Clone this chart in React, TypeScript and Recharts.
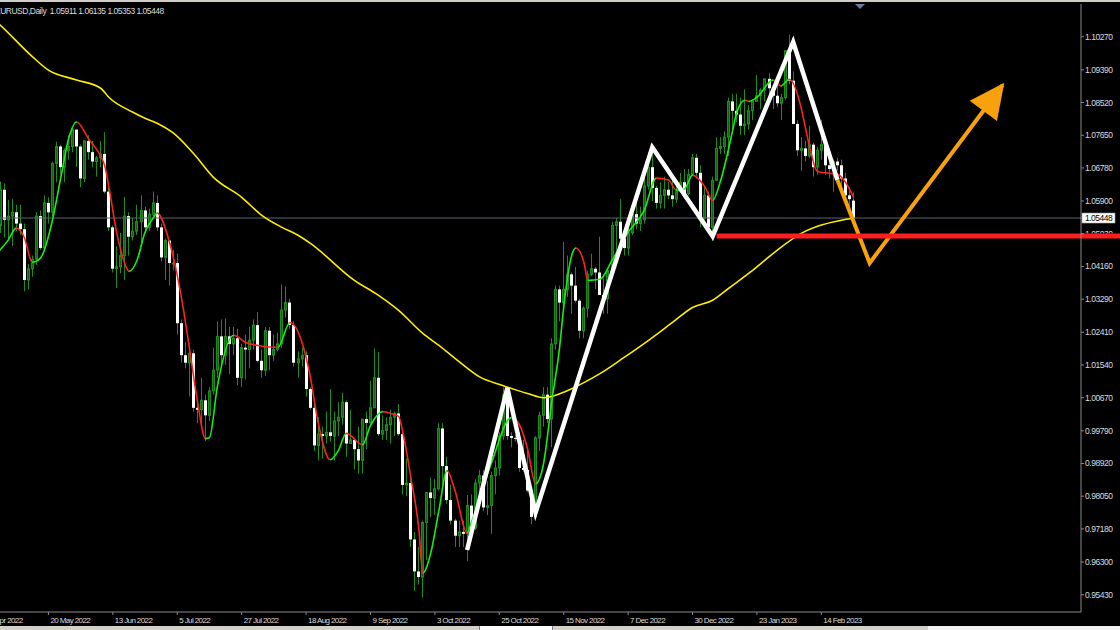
import React from "react";
import { ComposedChart, Bar, Line, XAxis, YAxis, ReferenceLine } from "recharts";

// ---------- data ----------
const SLOT_COUNT = 273; // bar slots across the plot (incl. empty future slots)
const FIRST_CANDLE_SLOT = 4;

const dateLabels = [
  "28 Apr 2022", "20 May 2022", "13 Jun 2022", "5 Jul 2022", "27 Jul 2022",
  "18 Aug 2022", "9 Sep 2022", "3 Oct 2022", "25 Oct 2022", "15 Nov 2022",
  "7 Dec 2022", "30 Dec 2022", "23 Jan 2023", "14 Feb 2023",
];
const dateTickSlots = [0, 16, 32, 48, 64, 80, 96, 112, 128, 144, 160, 176, 192, 208];

const priceTicks = [
  1.1027, 1.0939, 1.0852, 1.0765, 1.0678, 1.059, 1.0503, 1.0416, 1.0329,
  1.0241, 1.0154, 1.0067, 0.9979, 0.9892, 0.9805, 0.9718, 0.963, 0.9543,
];
const LAST_PRICE = 1.05448;
const PRICE_DOMAIN: [number, number] = [0.9497, 1.1114];
const SUPPORT_PRICE = 1.0497;
const SUPPORT_FROM_SLOT = 182;
const TITLE = "EURUSD,Daily  1.05911 1.06135 1.05353 1.05448";

// daily candles [open, high, low, close], from slot 4 onward
const ohlc: [number, number, number, number][] = [
  [1.0525, 1.0642, 1.0505, 1.0620], [1.0620, 1.0637, 1.0493, 1.0540], [1.0540, 1.0593, 1.0484, 1.0550],
  [1.0550, 1.0595, 1.0470, 1.0560], [1.0560, 1.0580, 1.0510, 1.0530], [1.0530, 1.0580, 1.0500, 1.0515],
  [1.0515, 1.0530, 1.0350, 1.0380], [1.0380, 1.0423, 1.0355, 1.0410], [1.0410, 1.0445, 1.0389, 1.0435],
  [1.0435, 1.0560, 1.0420, 1.0550], [1.0550, 1.0565, 1.0460, 1.0465], [1.0465, 1.0605, 1.0460, 1.0585],
  [1.0585, 1.0600, 1.0530, 1.0560], [1.0560, 1.0695, 1.0550, 1.0690], [1.0690, 1.0748, 1.0640, 1.0735],
  [1.0735, 1.0740, 1.0660, 1.0680], [1.0680, 1.0730, 1.0640, 1.0725], [1.0725, 1.0765, 1.0700, 1.0735],
  [1.0735, 1.0787, 1.0720, 1.0780], [1.0780, 1.0780, 1.0680, 1.0735], [1.0735, 1.0740, 1.0627, 1.0650],
  [1.0650, 1.0750, 1.0640, 1.0750], [1.0750, 1.0765, 1.0700, 1.0720], [1.0720, 1.0750, 1.0680, 1.0695],
  [1.0695, 1.0710, 1.0655, 1.0705], [1.0705, 1.0750, 1.0680, 1.0715], [1.0715, 1.0773, 1.0610, 1.0615],
  [1.0615, 1.0630, 1.0510, 1.0520], [1.0520, 1.0525, 1.0400, 1.0410], [1.0410, 1.0470, 1.0359, 1.0415],
  [1.0415, 1.0505, 1.0398, 1.0445], [1.0445, 1.0601, 1.0380, 1.0550], [1.0550, 1.0560, 1.0445, 1.0495],
  [1.0495, 1.0545, 1.0485, 1.0510], [1.0510, 1.0580, 1.0500, 1.0535], [1.0535, 1.0605, 1.0470, 1.0565],
  [1.0565, 1.0575, 1.0505, 1.0520], [1.0520, 1.0570, 1.0510, 1.0555], [1.0555, 1.0615, 1.0550, 1.0585],
  [1.0585, 1.0605, 1.0510, 1.0520], [1.0520, 1.0530, 1.0430, 1.0440], [1.0440, 1.0490, 1.0380, 1.0485],
  [1.0485, 1.0485, 1.0365, 1.0425], [1.0425, 1.0460, 1.0405, 1.0425], [1.0425, 1.0450, 1.0235, 1.0265],
  [1.0265, 1.0275, 1.0160, 1.0180], [1.0180, 1.0215, 1.0145, 1.0160], [1.0160, 1.0190, 1.0070, 1.0185],
  [1.0185, 1.0195, 1.0030, 1.0040], [1.0040, 1.0065, 0.9999, 1.0035], [1.0035, 1.0120, 0.9998, 1.0060],
  [1.0060, 1.0075, 0.9952, 1.0020], [1.0020, 1.0095, 1.0005, 1.0085], [1.0085, 1.0200, 1.0075, 1.0140],
  [1.0140, 1.0270, 1.0120, 1.0230], [1.0230, 1.0275, 1.0155, 1.0180], [1.0180, 1.0278, 1.0155, 1.0230],
  [1.0230, 1.0255, 1.0130, 1.0210], [1.0210, 1.0255, 1.0180, 1.0225], [1.0225, 1.0250, 1.0100, 1.0120],
  [1.0120, 1.0210, 1.0095, 1.0200], [1.0200, 1.0235, 1.0115, 1.0195], [1.0195, 1.0255, 1.0145, 1.0220],
  [1.0220, 1.0275, 1.0195, 1.0260], [1.0260, 1.0295, 1.0160, 1.0165], [1.0165, 1.0195, 1.0120, 1.0140],
  [1.0140, 1.0255, 1.0125, 1.0245], [1.0245, 1.0255, 1.0140, 1.0180], [1.0180, 1.0235, 1.0165, 1.0195],
  [1.0195, 1.0240, 1.0190, 1.0210], [1.0210, 1.0368, 1.0200, 1.0300], [1.0300, 1.0363, 1.0280, 1.0320],
  [1.0320, 1.0330, 1.0250, 1.0260], [1.0260, 1.0270, 1.0150, 1.0160], [1.0160, 1.0190, 1.0120, 1.0170],
  [1.0170, 1.0200, 1.0150, 1.0180], [1.0180, 1.0190, 1.0070, 1.0090], [1.0090, 1.0095, 1.0035, 1.0040],
  [1.0040, 1.0050, 0.9925, 0.9940], [0.9940, 1.0015, 0.9900, 0.9970], [0.9970, 0.9990, 0.9905, 0.9965],
  [0.9965, 1.0030, 0.9945, 0.9975], [0.9975, 1.0090, 0.9950, 0.9965], [0.9965, 1.0030, 0.9900, 1.0005],
  [1.0005, 1.0055, 0.9965, 1.0015], [1.0015, 1.0080, 0.9995, 1.0055], [1.0055, 1.0060, 0.9910, 0.9945],
  [0.9945, 1.0035, 0.9945, 0.9955], [0.9955, 0.9960, 0.9876, 0.9930], [0.9930, 0.9990, 0.9865, 0.9900],
  [0.9900, 1.0010, 0.9865, 1.0010], [1.0010, 1.0030, 0.9930, 1.0000], [1.0000, 1.0112, 0.9995, 1.0040],
  [1.0040, 1.0198, 1.0040, 1.0120], [1.0120, 1.0188, 0.9965, 0.9970], [0.9970, 1.0020, 0.9955, 0.9980],
  [0.9980, 1.0015, 0.9955, 0.9995], [0.9995, 1.0035, 0.9945, 1.0015], [1.0015, 1.0030, 0.9965, 1.0025],
  [1.0025, 1.0050, 0.9965, 0.9970], [0.9970, 0.9975, 0.9810, 0.9835], [0.9835, 0.9905, 0.9805, 0.9840],
  [0.9840, 0.9855, 0.9670, 0.9690], [0.9690, 0.9710, 0.9553, 0.9605], [0.9605, 0.9670, 0.9570, 0.9590],
  [0.9590, 0.9740, 0.9536, 0.9735], [0.9735, 0.9815, 0.9635, 0.9815], [0.9815, 0.9855, 0.9750, 0.9800],
  [0.9800, 0.9850, 0.9755, 0.9825], [0.9825, 0.9999, 0.9820, 0.9985], [0.9985, 0.9999, 0.9835, 0.9885],
  [0.9885, 0.9910, 0.9785, 0.9795], [0.9795, 0.9835, 0.9730, 0.9740], [0.9740, 0.9745, 0.9670, 0.9700],
  [0.9700, 0.9740, 0.9670, 0.9710], [0.9710, 0.9740, 0.9670, 0.9705], [0.9705, 0.9808, 0.9632, 0.9780],
  [0.9780, 0.9810, 0.9710, 0.9720], [0.9720, 0.9850, 0.9715, 0.9840], [0.9840, 0.9875, 0.9805, 0.9860],
  [0.9860, 0.9875, 0.9765, 0.9775], [0.9775, 0.9845, 0.9755, 0.9780], [0.9780, 0.9870, 0.9705, 0.9860],
  [0.9860, 0.9900, 0.9810, 0.9880], [0.9880, 0.9975, 0.9860, 0.9965], [0.9965, 1.0094, 0.9955, 1.0075],
  [1.0075, 1.0090, 0.9955, 0.9965], [0.9965, 0.9975, 0.9935, 0.9960], [0.9960, 0.9968, 0.9950, 0.9958],
  [0.9958, 0.9975, 0.9870, 0.9880], [0.9880, 0.9955, 0.9870, 0.9875], [0.9875, 0.9935, 0.9815, 0.9820],
  [0.9820, 0.9830, 0.9730, 0.9750], [0.9750, 0.9965, 0.9745, 0.9960], [0.9960, 1.0030, 0.9925, 1.0020],
  [1.0020, 1.0095, 0.9990, 1.0075], [1.0075, 1.0095, 1.0000, 1.0010], [1.0010, 1.0225, 0.9935, 1.0210],
  [1.0210, 1.0365, 1.0195, 1.0355], [1.0355, 1.0365, 1.0270, 1.0320], [1.0320, 1.0481, 1.0310, 1.0355],
  [1.0355, 1.0445, 1.0335, 1.0395], [1.0395, 1.0400, 1.0290, 1.0365], [1.0365, 1.0415, 1.0320, 1.0325],
  [1.0325, 1.0330, 1.0225, 1.0245], [1.0245, 1.0310, 1.0225, 1.0305], [1.0305, 1.0405, 1.0280, 1.0395],
  [1.0395, 1.0450, 1.0390, 1.0410], [1.0410, 1.0415, 1.0355, 1.0400], [1.0400, 1.0495, 1.0340, 1.0340],
  [1.0340, 1.0395, 1.0290, 1.0330], [1.0330, 1.0410, 1.0290, 1.0405], [1.0405, 1.0535, 1.0400, 1.0525],
  [1.0525, 1.0545, 1.0430, 1.0535], [1.0535, 1.0595, 1.0480, 1.0490], [1.0490, 1.0505, 1.0445, 1.0465],
  [1.0465, 1.0530, 1.0445, 1.0505], [1.0505, 1.0565, 1.0500, 1.0555], [1.0555, 1.0590, 1.0515, 1.0530],
  [1.0530, 1.0575, 1.0510, 1.0540], [1.0540, 1.0673, 1.0530, 1.0630], [1.0630, 1.0695, 1.0620, 1.0680],
  [1.0680, 1.0737, 1.0590, 1.0625], [1.0625, 1.0630, 1.0570, 1.0585], [1.0585, 1.0640, 1.0570, 1.0605],
  [1.0605, 1.0655, 1.0570, 1.0620], [1.0620, 1.0640, 1.0595, 1.0605], [1.0605, 1.0660, 1.0575, 1.0595],
  [1.0595, 1.0630, 1.0585, 1.0615], [1.0615, 1.0665, 1.0615, 1.0640], [1.0640, 1.0675, 1.0610, 1.0610],
  [1.0610, 1.0675, 1.0605, 1.0660], [1.0660, 1.0715, 1.0660, 1.0705], [1.0705, 1.0715, 1.0650, 1.0665],
  [1.0665, 1.0685, 1.0520, 1.0545], [1.0545, 1.0630, 1.0540, 1.0605], [1.0605, 1.0615, 1.0505, 1.0520],
  [1.0520, 1.0655, 1.0483, 1.0645], [1.0645, 1.0760, 1.0645, 1.0730], [1.0730, 1.0760, 1.0715, 1.0735],
  [1.0735, 1.0775, 1.0715, 1.0760], [1.0760, 1.0865, 1.0710, 1.0855], [1.0855, 1.0875, 1.0780, 1.0830],
  [1.0830, 1.0875, 1.0800, 1.0820], [1.0820, 1.0865, 1.0765, 1.0790], [1.0790, 1.0887, 1.0765, 1.0795],
  [1.0795, 1.0845, 1.0780, 1.0830], [1.0830, 1.0860, 1.0805, 1.0855], [1.0855, 1.0925, 1.0855, 1.0870],
  [1.0870, 1.0890, 1.0835, 1.0885], [1.0885, 1.0915, 1.0855, 1.0915], [1.0915, 1.0930, 1.0865, 1.0890],
  [1.0890, 1.0900, 1.0835, 1.0870], [1.0870, 1.0915, 1.0840, 1.0850], [1.0850, 1.0875, 1.0805, 1.0865],
  [1.0865, 1.0990, 1.0860, 1.0990], [1.0990, 1.1033, 1.0900, 1.0910], [1.0910, 1.0935, 1.0795, 1.0795],
  [1.0795, 1.0805, 1.0710, 1.0725], [1.0725, 1.0760, 1.0670, 1.0730], [1.0730, 1.0750, 1.0695, 1.0710],
  [1.0710, 1.0790, 1.0705, 1.0740], [1.0740, 1.0745, 1.0655, 1.0680], [1.0680, 1.0735, 1.0660, 1.0725],
  [1.0725, 1.0805, 1.0700, 1.0740], [1.0740, 1.0745, 1.0660, 1.0685], [1.0685, 1.0715, 1.0650, 1.0675],
  [1.0675, 1.0700, 1.0615, 1.0695], [1.0695, 1.0705, 1.0670, 1.0685], [1.0685, 1.0700, 1.0630, 1.0650],
  [1.0650, 1.0665, 1.0595, 1.0605], [1.0605, 1.0627, 1.0577, 1.0595], [1.05911, 1.06135, 1.05353, 1.05448],
];

// slow moving average (yellow), [slot, price]
const maPoints: [number, number][] = [
  [0, 1.1095], [4, 1.1058], [12, 1.0974], [16, 1.0938], [23, 1.0912], [29, 1.089], [31, 1.0866],
  [37, 1.0826], [40, 1.081], [43, 1.0797], [47, 1.0771], [52, 1.0717], [57, 1.0653], [64, 1.06],
  [69, 1.0552], [74, 1.052], [78, 1.0499], [81, 1.0478], [92, 1.0379], [98, 1.0339], [103, 1.0299],
  [109, 1.0238], [113, 1.0206], [118, 1.0163], [123, 1.0123], [129, 1.0099], [135, 1.0078],
  [139, 1.0067], [145, 1.0086], [149, 1.0107], [153, 1.0131], [159, 1.0174], [165, 1.0219],
  [171, 1.0267], [176, 1.0307], [181, 1.0326], [185, 1.0358], [191, 1.0406], [197, 1.0459],
  [203, 1.0504], [208, 1.0526], [213, 1.0539], [216, 1.0544],
];

// fast smoothed line (green rising / red falling), [slot, price]
const fastPoints: [number, number][] = [
  [3, 1.0449], [4, 1.046], [6, 1.0486], [8, 1.0518], [10, 1.0493], [12, 1.0427], [14, 1.0438],
  [17, 1.0539], [19, 1.0648], [21, 1.0755], [23, 1.08], [26, 1.0755], [29, 1.0709], [30, 1.0683],
  [31, 1.0629], [33, 1.0504], [35, 1.0424], [36, 1.0403], [38, 1.0432], [40, 1.0507], [42, 1.0544],
  [43, 1.0558], [46, 1.0483], [49, 1.0336], [51, 1.0201], [53, 1.0059], [55, 0.9958], [56, 0.9961],
  [58, 1.0099], [62, 1.0233], [65, 1.0214], [68, 1.0206], [73, 1.0201], [76, 1.0267], [79, 1.0214],
  [81, 1.0126], [83, 1.0001], [86, 0.9902], [88, 0.9926], [90, 0.9972], [94, 0.9942], [96, 0.9993],
  [99, 1.003], [101, 1.0025], [103, 1.0017], [104, 0.9977], [106, 0.9857], [108, 0.9719],
  [109, 0.9601], [111, 0.9655], [113, 0.9767], [115, 0.9873], [117, 0.982], [120, 0.9708],
  [121, 0.9734], [126, 0.9892], [131, 1.0014], [133, 0.9995], [135, 0.9932], [137, 0.9838],
  [139, 0.9892], [141, 1.0054], [143, 1.0203], [144, 1.0307], [146, 1.0446], [147, 1.0465],
  [149, 1.0428], [150, 1.0379], [153, 1.0382], [156, 1.0432], [160, 1.0507], [164, 1.0565],
  [167, 1.0651], [170, 1.0646], [172, 1.0619], [174, 1.0622], [176, 1.0659], [179, 1.0629],
  [181, 1.0592], [183, 1.0645], [186, 1.0779], [187, 1.0826], [189, 1.0858], [190, 1.0855],
  [192, 1.0866], [196, 1.0912], [198, 1.0896], [200, 1.0914], [203, 1.0837], [204, 1.0787],
  [205, 1.0739], [207, 1.0669], [209, 1.0665], [212, 1.0661], [214, 1.064], [216, 1.06],
];

// hand-drawn pattern (white) and projection (orange)
const zigzagPoints: [number, number][] = [
  [120, 0.9662], [130, 1.0093], [137, 0.9761], [166, 1.0733], [181, 1.0496], [201, 1.1013], [212, 1.0646],
];
const forecastPoints: [number, number][] = [[212, 1.0646], [220, 1.0425], [253, 1.0898]];

// ---------- styling ----------
const FONT = "'Liberation Sans', Arial, sans-serif";
const AXIS = "#8a8a8a";
const LABEL = "#dcdcdc";
const WICK = "#1c8c1c";
const BULL = "#0d660d";
const BEAR = "#ffffff";
const GREEN = "#12f012";
const RED = "#ff2020";
const AXIS_W = 39;
const CHART_W = 1138;
const CHART_H = 630;

// ---------- rows ----------
type Row = {
  slot: number;
  range: [number, number] | null;
  o: number | null; h: number | null; l: number | null; c: number | null;
  ma: number | null; fast: number | null; zig: number | null; fc: number | null;
};
const rows: Row[] = Array.from({ length: SLOT_COUNT }, (_, slot) => {
  const k = slot - FIRST_CANDLE_SLOT;
  const b = k >= 0 && k < ohlc.length ? ohlc[k] : null;
  return {
    slot,
    range: b ? [b[2], b[1]] : null,
    o: b ? b[0] : null, h: b ? b[1] : null, l: b ? b[2] : null, c: b ? b[3] : null,
    ma: null, fast: null, zig: null, fc: null,
  };
});
maPoints.forEach(([s, v]) => (rows[s].ma = v));
fastPoints.forEach(([s, v]) => (rows[s].fast = v));
zigzagPoints.forEach(([s, v]) => (rows[s].zig = v));
forecastPoints.forEach(([s, v]) => (rows[s].fc = v));

const fastFirst = fastPoints[0][0];
const fastSpan = fastPoints[fastPoints.length - 1][0] - fastFirst;
const fastStops = fastPoints.slice(1).flatMap(([s, v], i) => {
  const [s0, v0] = fastPoints[i];
  const col = v >= v0 ? GREEN : RED;
  return [
    <stop key={`a${i}`} offset={(s0 - fastFirst) / fastSpan} stopColor={col} />,
    <stop key={`b${i}`} offset={(s - fastFirst) / fastSpan} stopColor={col} />,
  ];
});

// ---------- shapes ----------
const Candle = (props: any) => {
  const { x, y, width, height, payload } = props;
  if (!payload || payload.o == null || y == null || height == null || isNaN(y)) return <g />;
  const top = Math.min(y, y + height);
  const bottom = Math.max(y, y + height);
  const span = payload.h - payload.l;
  const py = (v: number) => top + (span ? ((payload.h - v) / span) * (bottom - top) : 0);
  const cx = Math.floor(x + width / 2) + 0.5;
  const yo = py(payload.o);
  const yc = py(payload.c);
  const bull = payload.c >= payload.o;
  const bt = Math.min(yo, yc);
  const bh = Math.max(1, Math.abs(yc - yo));
  return (
    <g>
      <line x1={cx} x2={cx} y1={top} y2={bottom} stroke={WICK} strokeWidth={1} />
      {bull ? (
        <rect x={cx - 1} y={bt} width={2} height={bh} fill={BULL} stroke={WICK} strokeWidth={1} />
      ) : (
        <rect x={cx - 1.5} y={bt} width={3} height={bh} fill={BEAR} />
      )}
    </g>
  );
};

const ArrowDot = (props: any) => {
  const { cx, cy, index, points, key } = props;
  const lastSlot = forecastPoints[forecastPoints.length - 1][0];
  if (index !== lastSlot || cx == null || cy == null) return <g key={key} />;
  let ux = 0.593, uy = -0.805;
  if (Array.isArray(points)) {
    for (let j = index - 1; j >= 0; j--) {
      const p = points[j];
      if (p && p.y != null && !isNaN(p.y) && p.value != null) {
        const dx = cx - p.x, dy = cy - p.y;
        const len = Math.hypot(dx, dy) || 1;
        ux = dx / len; uy = dy / len;
        break;
      }
    }
  }
  const tipX = cx + ux * 3, tipY = cy + uy * 3;
  const bx = cx - ux * 32, by = cy - uy * 32;
  const hw = 17;
  const pts = `${tipX},${tipY} ${bx - uy * hw},${by + ux * hw} ${bx + uy * hw},${by - ux * hw}`;
  return <polygon key={key} points={pts} fill="#f7a10d" />;
};

const XTick = (props: any) => {
  const { x, y, payload } = props;
  const i = dateTickSlots.indexOf(payload.value);
  return (
    <text x={x + 2} y={y} dy={6} fill={LABEL} fontSize={8} fontFamily={FONT} letterSpacing={-0.6} textAnchor="start">
      {i >= 0 ? dateLabels[i] : ""}
    </text>
  );
};

const YTick = (props: any) => {
  const { x, y, payload } = props;
  const v = payload.value as number;
  const txt = v.toFixed(5);
  if (Math.abs(v - LAST_PRICE) < 1e-9) {
    return (
      <g>
        <rect x={x - 3} y={y - 5} width={33} height={10} fill="#ffffff" stroke="#9a9a9a" strokeWidth={0.6} />
        <text x={x} y={y} dy={3} fill="#000" fontSize={8.5} fontFamily={FONT} letterSpacing={-0.5} textAnchor="start">{txt}</text>
      </g>
    );
  }
  // a label lying under the support line is hidden behind it, only its top shows
  const covered = Math.abs(v - SUPPORT_PRICE) < 0.001;
  const clipId = `yclip-${txt}`;
  return (
    <g>
      {covered && (
        <defs>
          <clipPath id={clipId}>
            <rect x={x - 4} y={y - 8} width={40} height={7.5} />
          </clipPath>
        </defs>
      )}
      <text
        x={x}
        y={y}
        dy={3}
        fill={LABEL}
        fontSize={8.5}
        fontFamily={FONT}
        letterSpacing={-0.45}
        textAnchor="start"
        clipPath={covered ? `url(#${clipId})` : undefined}
      >
        {txt}
      </text>
    </g>
  );
};

const SupportShape = (props: any) => {
  const { x1, y1, x2, y2 } = props;
  if (x1 == null) return <g />;
  return <line x1={x1} y1={y1} x2={x2 + AXIS_W + 4} y2={y2} stroke="#ff1e1e" strokeWidth={5} />;
};

export default function App() {
  return (
    <div style={{ position: "absolute", left: 0, top: 0, width: 1120, height: 630, overflow: "hidden", background: "#000" }}>
      <svg width={0} height={0} style={{ position: "absolute" }}>
        <defs>
          <linearGradient id="fastGrad" x1="0" y1="0" x2="1" y2="0">{fastStops}</linearGradient>
        </defs>
      </svg>
      <div style={{ position: "absolute", left: -18, top: 0 }}>
        <ComposedChart
          width={CHART_W}
          height={CHART_H}
          data={rows}
          margin={{ top: 4, right: 0, bottom: 0, left: 0 }}
          barCategoryGap={0}
          barGap={0}
          style={{ background: "#000" }}
        >
          <XAxis
            dataKey="slot"
            type="category"
            ticks={dateTickSlots}
            interval={0}
            tickSize={3}
            tickMargin={2}
            tickLine={{ stroke: AXIS }}
            axisLine={{ stroke: AXIS }}
            height={18}
            tick={<XTick />}
          />
          <YAxis
            orientation="right"
            type="number"
            domain={PRICE_DOMAIN}
            allowDataOverflow
            ticks={[...priceTicks, LAST_PRICE]}
            interval={0}
            width={AXIS_W}
            tickSize={3}
            tickMargin={1}
            tickLine={{ stroke: AXIS }}
            axisLine={{ stroke: AXIS }}
            tick={<YTick />}
          />
          <ReferenceLine y={LAST_PRICE} stroke="#5c6570" strokeWidth={1} />
          <Bar dataKey="range" shape={<Candle />} isAnimationActive={false} />
          <Line dataKey="ma" type="monotone" stroke="#ffee00" strokeWidth={1.6} dot={false} connectNulls isAnimationActive={false} />
          <Line dataKey="fast" type="monotone" stroke="url(#fastGrad)" strokeWidth={1.6} dot={false} connectNulls isAnimationActive={false} />
          <Line dataKey="zig" type="linear" stroke="#ffffff" strokeWidth={4.5} dot={false} connectNulls isAnimationActive={false} />
          <Line dataKey="fc" type="linear" stroke="#f7a10d" strokeWidth={4} dot={<ArrowDot />} connectNulls isAnimationActive={false} />
          <ReferenceLine
            segment={[{ x: SUPPORT_FROM_SLOT, y: SUPPORT_PRICE }, { x: SLOT_COUNT - 1, y: SUPPORT_PRICE }]}
            shape={<SupportShape />}
            ifOverflow="visible"
          />
        </ComposedChart>
      </div>
      <div style={{ position: "absolute", left: -5, top: 7, fontFamily: FONT, fontSize: 8.5, lineHeight: "9px", color: LABEL, whiteSpace: "pre", letterSpacing: -0.5 }}>
        {TITLE}
      </div>
      <div style={{ position: "absolute", left: 0, top: 0, width: 1120, height: 2, background: "#d0cdc6" }} />
      <svg style={{ position: "absolute", left: 855, top: 4 }} width={10} height={6}>
        <polygon points="0,0 10,0 5,5" fill="#6b7d9c" />
      </svg>
      <div style={{ position: "absolute", left: 0, top: 626, width: 1120, height: 4, background: "#f2f2f2" }}>
        <div style={{ position: "absolute", left: 0, top: 0, width: 928, height: 4, background: "#d4d0c8" }} />
        <div style={{ position: "absolute", left: 479, top: 0, width: 72, height: 4, background: "#ffffff", borderLeft: "1px solid #808080", borderRight: "1px solid #808080" }} />
      </div>
    </div>
  );
}
